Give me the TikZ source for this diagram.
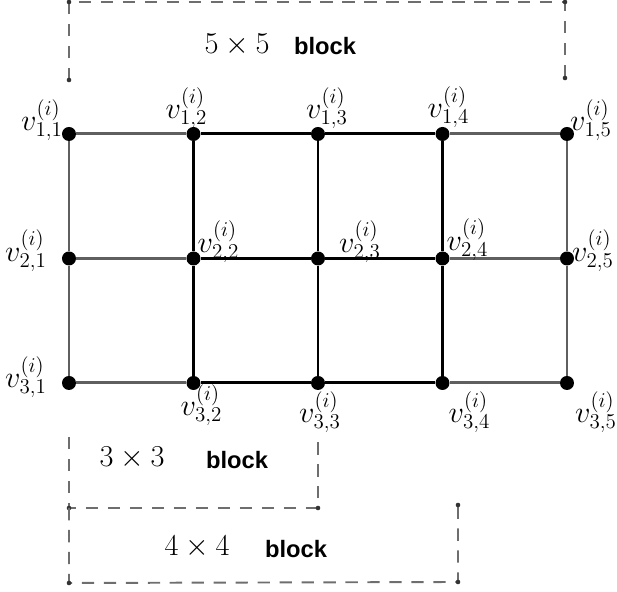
\documentclass[tikz,border=0pt]{standalone}
\usepackage{fontspec}
\usepackage{tikz}
\usetikzlibrary{calc}
\newfontfamily\blockfont{Liberation Sans}
\definecolor{outer}{RGB}{95, 95, 95}
\definecolor{dashgray}{RGB}{110, 110, 110}

\begin{document}
\begin{tikzpicture}[
        vert/.style={circle, fill=black, draw=none, inner sep=0pt, minimum size=0.28cm},
        lab/.style={inner sep=0pt, font=\fontsize{16.5}{19}\selectfont},
        rim/.style={draw=outer, line width=1.7pt},
        core/.style={draw=black, line width=1.7pt},
        blockline/.style={draw=dashgray, line width=1.1pt, dash pattern=on 7pt off 5.5pt},
        corner/.style={circle, fill=black!80, inner sep=0pt, minimum size=2.6pt},
        size/.style={inner sep=0pt, font=\LARGE},
        word/.style={inner sep=0pt, font=\blockfont\fontsize{13.5}{16}\selectfont\bfseries}]
        \useasboundingbox (-1.38,-4.18) rectangle (10.96,7.66);

        % vertices
        \node[vert] (v11) at (0,4.98)    {};
        \node[vert] (v12) at (2.49,4.98) {};
        \node[vert] (v13) at (4.98,4.98) {};
        \node[vert] (v14) at (7.47,4.98) {};
        \node[vert] (v15) at (9.96,4.98) {};
        \node[vert] (v21) at (0,2.49)    {};
        \node[vert] (v22) at (2.49,2.49) {};
        \node[vert] (v23) at (4.98,2.49) {};
        \node[vert] (v24) at (7.47,2.49) {};
        \node[vert] (v25) at (9.96,2.49) {};
        \node[vert] (v31) at (0,0)       {};
        \node[vert] (v32) at (2.49,0)    {};
        \node[vert] (v33) at (4.98,0)    {};
        \node[vert] (v34) at (7.47,0)    {};
        \node[vert] (v35) at (9.96,0)    {};

        % edges
        \draw[rim] (v11) -- (v21) -- (v31);
        \draw[rim] (v15) -- (v25) -- (v35);
        \draw[rim] (v11) -- (v12) (v14) -- (v15);
        \draw[rim] (v21) -- (v22) (v24) -- (v25);
        \draw[rim] (v31) -- (v32) (v34) -- (v35);
        \draw[core] (v12) -- (v22) -- (v32);
        \draw[core] (v13) -- (v23) -- (v33);
        \draw[core] (v14) -- (v24) -- (v34);
        \draw[core] (v12) -- (v13) -- (v14);
        \draw[core] (v22) -- (v23) -- (v24);
        \draw[core] (v32) -- (v33) -- (v34);

        % labels
        \node[lab] (l11) at ($(v11)+(-0.54,0.28)$) {$v_{1,1}^{(i)}$};
        \node[lab] (l12) at ($(v12)+(-0.14,0.52)$) {$v_{1,2}^{(i)}$};
        \node[lab] (l13) at ($(v13)+(0.18,0.52)$)  {$v_{1,3}^{(i)}$};
        \node[lab] (l14) at ($(v14)+(0.12,0.54)$)  {$v_{1,4}^{(i)}$};
        \node[lab] (l15) at ($(v15)+(0.48,0.28)$)  {$v_{1,5}^{(i)}$};
        \node[lab] (l21) at ($(v21)+(-0.86,0.16)$) {$v_{2,1}^{(i)}$};
        \node[lab] (l22) at ($(v22)+(0.5,0.34)$)   {$v_{2,2}^{(i)}$};
        \node[lab] (l23) at ($(v23)+(0.84,0.34)$)  {$v_{2,3}^{(i)}$};
        \node[lab] (l24) at ($(v24)+(0.5,0.38)$)   {$v_{2,4}^{(i)}$};
        \node[lab] (l25) at ($(v25)+(0.52,0.16)$)  {$v_{2,5}^{(i)}$};
        \node[lab] (l31) at ($(v31)+(-0.86,0.12)$) {$v_{3,1}^{(i)}$};
        \node[lab] (l32) at ($(v32)+(0.16,-0.44)$) {$v_{3,2}^{(i)}$};
        \node[lab] (l33) at ($(v33)+(0.04,-0.58)$) {$v_{3,3}^{(i)}$};
        \node[lab] (l34) at ($(v34)+(0.54,-0.58)$) {$v_{3,4}^{(i)}$};
        \node[lab] (l35) at ($(v35)+(0.58,-0.58)$) {$v_{3,5}^{(i)}$};

        % blocks
        \coordinate (a1) at (0,6.06);
        \coordinate (a2) at (0,7.62);
        \coordinate (a3) at (9.92,7.62);
        \coordinate (a4) at (9.92,6.10);
        \draw[blockline] (a1) -- (a2) -- (a3) -- (a4);
        \foreach \c in {a1,a2,a3,a4} \node[corner] at (\c) {};
        \node[size] (n5) at (3.36,6.76) {$5\times5$};
        \node[word] (w5) at (5.12,6.74) {block};

        \coordinate (b1) at (0,-1.08);
        \coordinate (b2) at (0,-2.5);
        \coordinate (b3) at (4.98,-2.5);
        \coordinate (b4) at (4.98,-1.08);
        \draw[blockline] (b1) -- (b2) -- (b3) -- (b4);
        \foreach \c in {b2,b3} \node[corner] at (\c) {};
        \node[size] (n3) at (1.26,-1.5) {$3\times3$};
        \node[word] (w3) at (3.36,-1.54) {block};

        \coordinate (c1) at (0,-2.5);
        \coordinate (c2) at (0,-4.0);
        \coordinate (c3) at (7.78,-3.98);
        \coordinate (c4) at (7.78,-2.44);
        \draw[blockline] (c1) -- (c2) -- (c3) -- (c4);
        \foreach \c in {c2,c3,c4} \node[corner] at (\c) {};
        \node[size] (n4) at (2.56,-3.28) {$4\times4$};
        \node[word] (w4) at (4.54,-3.32) {block};
    \end{tikzpicture}
\end{document}
